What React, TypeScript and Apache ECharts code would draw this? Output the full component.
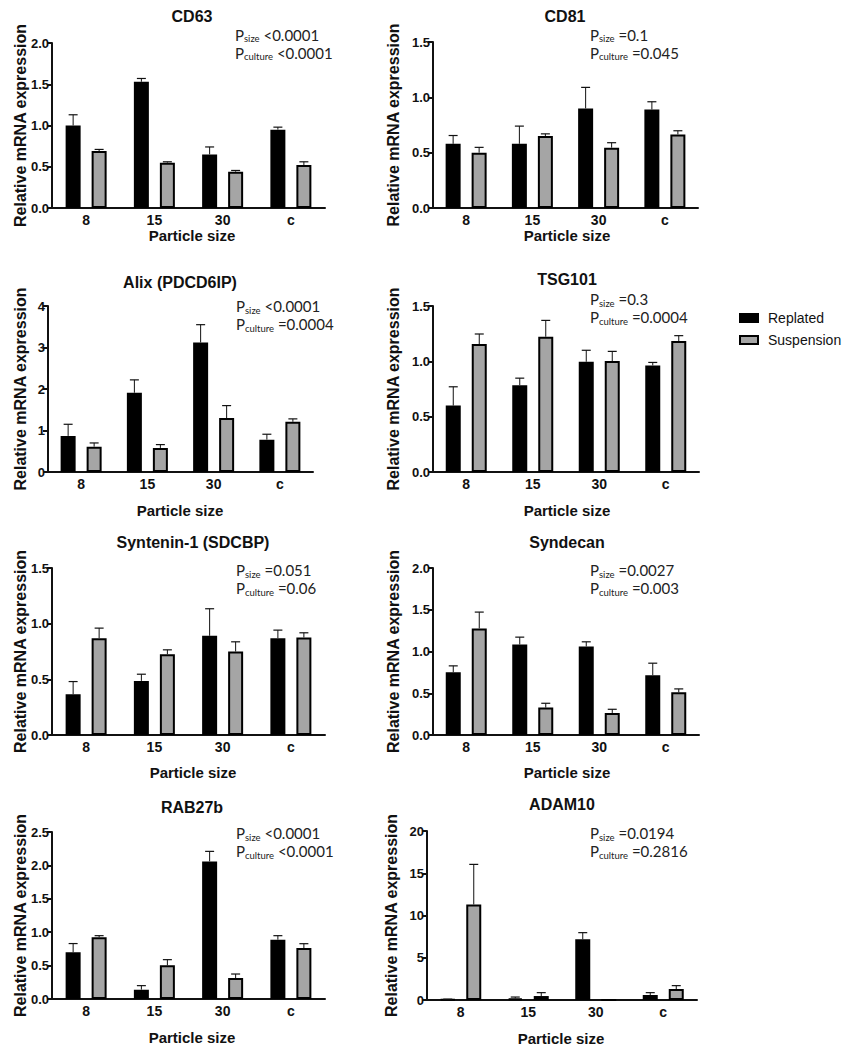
import React, { useEffect, useRef } from 'react';
import * as echarts from 'echarts';

// ---------- data ----------
const categories = ['8', '15', '30', 'c'];
const seriesNames = ['Replated', 'Suspension'];

const panelTitles = ['CD63', 'CD81', 'Alix (PDCD6IP)', 'TSG101', 'Syntenin-1 (SDCBP)', 'Syndecan', 'RAB27b', 'ADAM10'];

const cd63Replated = [1.0, 1.53, 0.65, 0.95];
const cd63ReplatedErr = [0.13, 0.04, 0.09, 0.03];
const cd63Suspension = [0.69, 0.55, 0.44, 0.52];
const cd63SuspensionErr = [0.02, 0.01, 0.015, 0.04];

const cd81Replated = [0.58, 0.58, 0.9, 0.89];
const cd81ReplatedErr = [0.075, 0.16, 0.19, 0.07];
const cd81Suspension = [0.5, 0.65, 0.545, 0.665];
const cd81SuspensionErr = [0.048, 0.02, 0.045, 0.033];

const alixReplated = [0.87, 1.91, 3.12, 0.78];
const alixReplatedErr = [0.28, 0.31, 0.43, 0.13];
const alixSuspension = [0.61, 0.58, 1.3, 1.21];
const alixSuspensionErr = [0.09, 0.08, 0.3, 0.07];

const tsg101Replated = [0.6, 0.785, 0.996, 0.963];
const tsg101ReplatedErr = [0.17, 0.063, 0.104, 0.027];
const tsg101Suspension = [1.156, 1.222, 1.002, 1.184];
const tsg101SuspensionErr = [0.091, 0.148, 0.088, 0.048];

const synteninReplated = [0.366, 0.486, 0.891, 0.87];
const synteninReplatedErr = [0.114, 0.06, 0.243, 0.072];
const synteninSuspension = [0.87, 0.726, 0.75, 0.876];
const synteninSuspensionErr = [0.09, 0.039, 0.087, 0.042];

const syndecanReplated = [0.752, 1.084, 1.06, 0.716];
const syndecanReplatedErr = [0.076, 0.088, 0.056, 0.144];
const syndecanSuspension = [1.276, 0.328, 0.264, 0.512];
const syndecanSuspensionErr = [0.196, 0.052, 0.044, 0.04];

const rab27bReplated = [0.7, 0.14, 2.06, 0.888];
const rab27bReplatedErr = [0.13, 0.06, 0.15, 0.06];
const rab27bSuspension = [0.923, 0.504, 0.314, 0.763];
const rab27bSuspensionErr = [0.025, 0.085, 0.06, 0.065];

const adam10Replated = [0.08, 0.2, 7.18, 0.59];
const adam10ReplatedErr = [0.02, 0.15, 0.79, 0.28];
const adam10Suspension = [11.3, 0.47, 0, 1.3];
const adam10SuspensionErr = [4.75, 0.4, 0, 0.4];

const pSizeLabels = ['<0.0001', '=0.1', '<0.0001', '=0.3', '=0.051', '=0.0027', '<0.0001', '=0.0194'];
const pCultureLabels = ['<0.0001', '=0.045', '=0.0004', '=0.0004', '=0.06', '=0.003', '<0.0001', '=0.2816'];

const yMaxes = [2, 1.5, 4, 1.5, 1.5, 2, 2.5, 20];
const yIntervals = [0.5, 0.5, 1, 0.5, 0.5, 0.5, 0.5, 5];
const yDecimals = [1, 1, 0, 1, 1, 1, 1, 0];

const replatedSets = [cd63Replated, cd81Replated, alixReplated, tsg101Replated, synteninReplated, syndecanReplated, rab27bReplated, adam10Replated];
const replatedErrSets = [cd63ReplatedErr, cd81ReplatedErr, alixReplatedErr, tsg101ReplatedErr, synteninReplatedErr, syndecanReplatedErr, rab27bReplatedErr, adam10ReplatedErr];
const suspensionSets = [cd63Suspension, cd81Suspension, alixSuspension, tsg101Suspension, synteninSuspension, syndecanSuspension, rab27bSuspension, adam10Suspension];
const suspensionErrSets = [cd63SuspensionErr, cd81SuspensionErr, alixSuspensionErr, tsg101SuspensionErr, synteninSuspensionErr, syndecanSuspensionErr, rab27bSuspensionErr, adam10SuspensionErr];

// ---------- layout ----------
const gridBoxes = [
  { left: 52, top: 43, width: 273, height: 165 },
  { left: 433, top: 42, width: 265, height: 166 },
  { left: 48, top: 306, width: 265, height: 166 },
  { left: 433, top: 306, width: 266, height: 166 },
  { left: 52, top: 568, width: 273, height: 167 },
  { left: 433, top: 568, width: 266, height: 167 },
  { left: 52, top: 832, width: 273, height: 167 },
  { left: 427, top: 831, width: 270, height: 169 },
];
const titlePos = [[192, 16], [565, 16], [180, 282], [567, 279], [193, 542], [567, 542], [192, 807], [562, 804]];
const xNamePos = [[192, 235], [567, 235], [180, 510], [567, 510], [193, 772], [567, 772], [192, 1037], [561, 1038]];
const yNameX = [20, 393, 20, 393, 20, 393, 20, 391];
const pPos = [[235, 25.5], [590, 25.5], [236, 297], [590, 290], [236, 561], [590, 561], [236, 824], [590, 824]];

const FONT = "'Liberation Sans', Arial, sans-serif";
const PFONT = "Lato, 'Open Sans', sans-serif";
const BAR_W = 15;
const BAR_GAP_PX = 11;
const OFFSET = (BAR_W + BAR_GAP_PX) / 2;
const INK = '#111';

function errRenderer(sign: number) {
  return (params: any, api: any) => {
    const idx = api.value(0);
    const mean = api.value(1);
    const upper = api.value(2);
    if (!(upper > mean)) return null;
    const base = api.coord([idx, mean]);
    const top = api.coord([idx, upper]);
    const x = base[0] + sign * OFFSET;
    return {
      type: 'group',
      children: [
        { type: 'line', shape: { x1: x, y1: base[1], x2: x, y2: top[1] }, style: { stroke: INK, lineWidth: 1 } },
        { type: 'line', shape: { x1: x - 4.5, y1: top[1], x2: x + 4.5, y2: top[1] }, style: { stroke: INK, lineWidth: 1.2 } },
      ],
    };
  };
}

export default function App() {
  const ref = useRef<HTMLDivElement>(null);
  useEffect(() => {
    if (!ref.current) return;
    const chart = echarts.init(ref.current, undefined, { renderer: 'svg' });

    const grid: any[] = [];
    const xAxis: any[] = [];
    const yAxis: any[] = [];
    const series: any[] = [];
    const graphic: any[] = [];

    panelTitles.forEach((title, i) => {
      grid.push({ ...gridBoxes[i], containLabel: false });
      xAxis.push({
        gridIndex: i,
        type: 'category',
        data: categories,
        axisLine: { lineStyle: { color: INK, width: 2 } },
        axisTick: { alignWithLabel: true, interval: 0, length: 5, lineStyle: { color: INK, width: 2 } },
        axisLabel: { interval: 0, color: INK, fontWeight: 'bold', fontSize: 14, fontFamily: FONT, margin: 5 },
      });
      const dec = yDecimals[i];
      yAxis.push({
        gridIndex: i,
        type: 'value',
        min: 0,
        max: yMaxes[i],
        interval: yIntervals[i],
        axisLine: { show: true, lineStyle: { color: INK, width: 2 } },
        axisTick: { show: true, length: 5, lineStyle: { color: INK, width: 2 } },
        splitLine: { show: false },
        axisLabel: {
          color: INK,
          fontWeight: 'bold',
          fontSize: 13,
          fontFamily: FONT,
          margin: 3,
          formatter: (v: number) => v.toFixed(dec),
        },
      });
      const R = replatedSets[i];
      const RE = replatedErrSets[i];
      const S = suspensionSets[i];
      const SE = suspensionErrSets[i];
      series.push({
        type: 'bar',
        name: seriesNames[0],
        xAxisIndex: i,
        yAxisIndex: i,
        data: R,
        barWidth: BAR_W,
        barGap: (BAR_GAP_PX / BAR_W) * 100 + '%',
        itemStyle: { color: '#000', borderColor: '#000', borderWidth: 2 },
      });
      series.push({
        type: 'bar',
        name: seriesNames[1],
        xAxisIndex: i,
        yAxisIndex: i,
        data: S,
        barWidth: BAR_W,
        barGap: (BAR_GAP_PX / BAR_W) * 100 + '%',
        itemStyle: { color: '#a5a5a5', borderColor: '#000', borderWidth: 2 },
      });
      series.push({
        type: 'custom',
        xAxisIndex: i,
        yAxisIndex: i,
        z: 3,
        renderItem: errRenderer(-1),
        data: R.map((v, k) => [k, v, v + RE[k]]),
        silent: true,
      });
      series.push({
        type: 'custom',
        xAxisIndex: i,
        yAxisIndex: i,
        z: 3,
        renderItem: errRenderer(1),
        data: S.map((v, k) => [k, v, v + SE[k]]),
        silent: true,
      });

      const g = gridBoxes[i];
      graphic.push({
        type: 'text',
        x: titlePos[i][0],
        y: titlePos[i][1],
        style: { text: title, align: 'center', verticalAlign: 'middle', font: `bold 16px ${FONT}`, fill: INK },
      });
      graphic.push({
        type: 'text',
        x: xNamePos[i][0],
        y: xNamePos[i][1],
        style: { text: 'Particle size', align: 'center', verticalAlign: 'middle', font: `bold 15px ${FONT}`, fill: INK },
      });
      graphic.push({
        type: 'text',
        x: yNameX[i],
        y: g.top + g.height / 2,
        rotation: Math.PI / 2,
        style: { text: 'Relative mRNA expression', align: 'center', verticalAlign: 'middle', font: `bold 16px ${FONT}`, fill: INK },
      });
      graphic.push({
        type: 'text',
        x: pPos[i][0],
        y: pPos[i][1],
        style: {
          text: `{p|P}{s|size}{v| ${pSizeLabels[i]}}\n{p|P}{s|culture}{v| ${pCultureLabels[i]}}`,
          align: 'left',
          verticalAlign: 'top',
          fill: '#222',
          rich: {
            p: { fontFamily: PFONT, fontSize: 15, lineHeight: 18, fill: '#222' },
            v: { fontFamily: PFONT, fontSize: 15, lineHeight: 18, fill: '#222' },
            s: { fontFamily: PFONT, fontSize: 9.5, lineHeight: 9, verticalAlign: 'bottom', fill: '#222' },
          },
        },
      });
    });

    chart.setOption({
      animation: false,
      backgroundColor: '#fff',
      grid,
      xAxis,
      yAxis,
      series,
      graphic,
      legend: {
        data: seriesNames,
        orient: 'vertical',
        left: 739,
        top: 311,
        padding: 0,
        icon: 'rect',
        itemWidth: 18,
        itemHeight: 8,
        itemGap: 8,
        itemStyle: { borderColor: '#000', borderWidth: 2 },
        textStyle: { fontSize: 14, fontFamily: FONT, color: INK, padding: [0, 0, 0, 5] },
        selectedMode: false,
      },
    });
    return () => chart.dispose();
  }, []);
  return <div ref={ref} style={{ position: 'absolute', left: 0, top: 0, width: 851, height: 1050 }} />;
}
